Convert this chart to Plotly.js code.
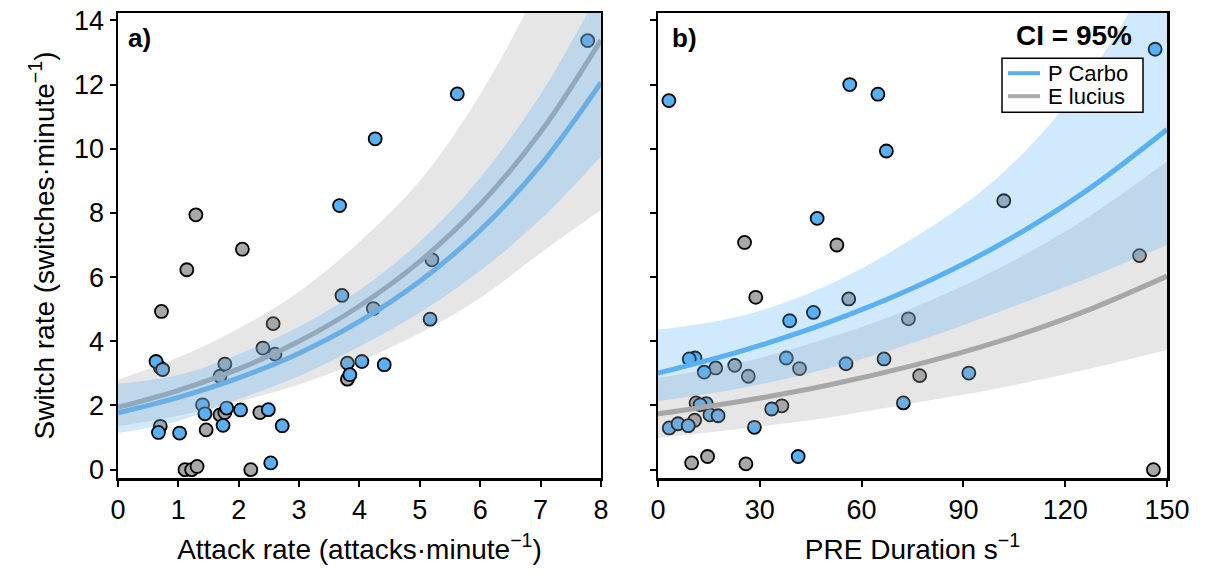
<!DOCTYPE html>
<html>
<head>
<meta charset="utf-8">
<script src="https://cdn.plot.ly/plotly-3.0.1.min.js"></script>
<style>html,body{margin:0;padding:0;background:#fff;}#chart{width:1205px;height:581px;}</style>
</head>
<body>
<div id="chart"></div>
<script>
// ---------- Panel a: Attack rate ----------
var aBlueX = [7.78, 5.62, 4.26, 3.67, 3.71, 5.17, 0.63, 0.74, 3.80, 4.04, 4.41, 3.84, 1.40, 1.44, 1.80, 2.03, 2.49, 2.72, 1.74, 0.67, 1.02, 2.53];
var aBlueY = [13.37, 11.71, 10.31, 8.23, 5.43, 4.69, 3.37, 3.12, 3.32, 3.37, 3.27, 2.96, 2.02, 1.74, 1.92, 1.86, 1.87, 1.37, 1.38, 1.16, 1.14, 0.21];
var aGrayX = [1.29, 2.06, 1.14, 0.72, 5.20, 4.23, 2.57, 2.40, 2.60, 1.77, 1.69, 0.70, 3.80, 1.69, 1.77, 2.35, 1.46, 0.70, 1.11, 1.22, 1.31, 2.20];
var aGrayY = [7.94, 6.87, 6.23, 4.93, 6.54, 5.02, 4.55, 3.79, 3.60, 3.29, 2.91, 3.18, 2.82, 1.71, 1.78, 1.78, 1.24, 1.35, 0.00, 0.00, 0.10, 0.00];

var aFitX      = [0, 1, 2, 3, 4, 5, 6, 7, 8];
var aBlueFit   = [1.77, 2.25, 2.86, 3.63, 4.62, 5.87, 7.46, 9.49, 12.06];
var aBlueUpper = [2.68, 2.95, 3.60, 4.45, 5.60, 7.10, 9.10, 11.70, 15.00];
var aBlueLower = [1.14, 1.52, 2.20, 2.92, 3.84, 4.90, 6.20, 7.80, 9.76];
var aGrayFit   = [1.94, 2.47, 3.14, 4.00, 5.10, 6.49, 8.26, 10.52, 13.39];
var aGrayUpper = [2.80, 3.50, 4.40, 5.55, 7.10, 9.00, 11.70, 15.20, 19.60];
var aGrayLower = [1.35, 1.68, 2.12, 2.65, 3.37, 4.25, 5.35, 6.75, 8.10];

// ---------- Panel b: PRE duration ----------
var bBlueX = [146.5, 3.2, 56.5, 64.8, 67.3, 46.9, 45.8, 38.8, 10.9, 9.2, 13.6, 37.8, 55.4, 66.6, 91.6, 72.3, 14.2, 12.4, 15.3, 17.7, 3.3, 5.9, 8.9, 28.4, 33.5, 41.3];
var bBlueY = [13.10, 11.50, 12.00, 11.70, 9.93, 7.83, 4.90, 4.64, 3.48, 3.45, 3.04, 3.48, 3.30, 3.45, 3.01, 2.08, 2.06, 2.02, 1.71, 1.68, 1.30, 1.43, 1.37, 1.32, 1.89, 0.41];
var bGrayX = [25.5, 52.7, 101.9, 141.9, 28.8, 56.2, 73.8, 17.0, 22.6, 26.6, 41.7, 77.1, 11.2, 10.8, 36.5, 9.9, 14.6, 25.9, 146.0];
var bGrayY = [7.08, 7.00, 8.38, 6.67, 5.37, 5.32, 4.70, 3.17, 3.25, 2.91, 3.15, 2.93, 2.08, 1.54, 1.99, 0.21, 0.41, 0.18, 0.00];

var bFitX      = [0, 25, 50, 75, 100, 125, 150];
var bBlueFit   = [3.01, 3.71, 4.58, 5.65, 6.97, 8.60, 10.60];
var bBlueUpper = [4.36, 4.80, 5.75, 7.20, 9.10, 12.00, 16.30];
var bBlueLower = [2.13, 2.55, 3.15, 3.95, 4.90, 5.90, 7.00];
var bGrayFit   = [1.74, 2.14, 2.63, 3.24, 3.98, 4.90, 6.03];
var bGrayUpper = [2.86, 3.35, 4.10, 5.04, 6.25, 7.75, 9.60];
var bGrayLower = [0.99, 1.28, 1.62, 2.07, 2.53, 3.09, 3.73];

var seriesNames = ['P Carbo', 'E lucius'];
var xTicksA = [0, 1, 2, 3, 4, 5, 6, 7, 8];
var xTicksB = [0, 30, 60, 90, 120, 150];
var yTicks  = [0, 2, 4, 6, 8, 10, 12, 14];

var BLUE = 'rgb(90,176,245)';
var GRAY = 'rgb(168,168,168)';
var BLUE_BAND = 'rgba(90,176,245,0.28)';
var GRAY_BAND = 'rgba(165,165,165,0.28)';
var FONT = 'Liberation Sans, Arial, sans-serif';

function pts(x, y, color, xa, ya, name) {
  return {x: x, y: y, type: 'scatter', mode: 'markers', xaxis: xa, yaxis: ya, name: name, showlegend: false, hoverinfo: 'skip',
    marker: {size: 13, color: color, line: {color: '#000', width: 1.8}}};
}
function fit(x, y, color, xa, ya, name) {
  return {x: x, y: y, type: 'scatter', mode: 'lines', xaxis: xa, yaxis: ya, name: name, showlegend: false,
    line: {color: color, width: 5, shape: 'spline'}};
}
function bandEdges(x, up, lo, color, xa, ya) {
  return [
    {x: x, y: lo, type: 'scatter', mode: 'lines', xaxis: xa, yaxis: ya, showlegend: false, hoverinfo: 'skip',
      line: {width: 0, shape: 'spline', color: 'rgba(0,0,0,0)'}},
    {x: x, y: up, type: 'scatter', mode: 'lines', fill: 'tonexty', fillcolor: color, xaxis: xa, yaxis: ya,
      showlegend: false, hoverinfo: 'skip', line: {width: 0, shape: 'spline', color: 'rgba(0,0,0,0)'}}
  ];
}

var data = [].concat(
  [pts(aGrayX, aGrayY, GRAY, 'x', 'y', seriesNames[1]),
   pts(aBlueX, aBlueY, BLUE, 'x', 'y', seriesNames[0]),
   fit(aFitX, aGrayFit, GRAY, 'x', 'y', seriesNames[1]),
   fit(aFitX, aBlueFit, BLUE, 'x', 'y', seriesNames[0])],
  bandEdges(aFitX, aGrayUpper, aGrayLower, GRAY_BAND, 'x', 'y'),
  bandEdges(aFitX, aBlueUpper, aBlueLower, BLUE_BAND, 'x', 'y'),
  [pts(bGrayX, bGrayY, GRAY, 'x2', 'y2', seriesNames[1]),
   pts(bBlueX, bBlueY, BLUE, 'x2', 'y2', seriesNames[0]),
   fit(bFitX, bBlueFit, BLUE, 'x2', 'y2', seriesNames[0]),
   fit(bFitX, bGrayFit, GRAY, 'x2', 'y2', seriesNames[1])],
  bandEdges(bFitX, bGrayUpper, bGrayLower, GRAY_BAND, 'x2', 'y2'),
  bandEdges(bFitX, bBlueUpper, bBlueLower, BLUE_BAND, 'x2', 'y2')
);

var axisCommon = {
  showgrid: false, zeroline: false, showline: true, mirror: true, linecolor: '#000', linewidth: 2.5,
  ticks: 'outside', ticklen: 6, tickwidth: 2, tickcolor: '#000',
  tickfont: {family: FONT, size: 27, color: '#000'}
};
function ax(extra) { return Object.assign({}, axisCommon, extra); }

// legend geometry (paper units)
function px2x(p) { return (p - 118) / 1049; }
function py2y(p) { return (478.3 - p) / 465.6; }

var layout = {
  width: 1205, height: 581,
  margin: {l: 118, r: 38, t: 13, b: 103},
  paper_bgcolor: '#fff', plot_bgcolor: '#fff',
  font: {family: FONT, color: '#000'},
  showlegend: false,
  xaxis: ax({domain: [0, 0.4604], range: [0, 8], tickvals: xTicksA, anchor: 'y',
    title: {text: 'Attack rate (attacks\u00b7minute<sup>\u22121</sup>)', font: {family: FONT, size: 28}, standoff: 16}}),
  yaxis: ax({range: [-0.26, 14.23], tickvals: yTicks, anchor: 'x',
    title: {text: 'Switch rate (switches\u00b7minute<sup>\u22121</sup>)', font: {family: FONT, size: 28}, standoff: 12}}),
  xaxis2: ax({domain: [0.5148, 1], range: [0, 150], tickvals: xTicksB, anchor: 'y2',
    title: {text: 'PRE Duration s<sup>\u22121</sup>', font: {family: FONT, size: 28}, standoff: 16}}),
  yaxis2: ax({range: [-0.26, 14.23], tickvals: yTicks, anchor: 'x2', showticklabels: false}),
  shapes: [
    {type: 'rect', xref: 'paper', yref: 'paper', x0: px2x(1002), x1: px2x(1143), y0: py2y(112), y1: py2y(58),
      fillcolor: '#fff', line: {color: '#000', width: 1.5}, layer: 'above'},
    {type: 'line', xref: 'paper', yref: 'paper', x0: px2x(1008), x1: px2x(1040), y0: py2y(73), y1: py2y(73),
      line: {color: BLUE, width: 4}, layer: 'above'},
    {type: 'line', xref: 'paper', yref: 'paper', x0: px2x(1008), x1: px2x(1040), y0: py2y(96), y1: py2y(96),
      line: {color: GRAY, width: 4}, layer: 'above'}
  ],
  annotations: [
    {text: '<b>a)</b>', xref: 'x domain', yref: 'y domain', x: 0.016, y: 0.982, xanchor: 'left', yanchor: 'top',
      showarrow: false, font: {family: FONT, size: 26, color: '#000'}},
    {text: '<b>b)</b>', xref: 'x2 domain', yref: 'y2 domain', x: 0.023, y: 0.982, xanchor: 'left', yanchor: 'top',
      showarrow: false, font: {family: FONT, size: 26, color: '#000'}},
    {text: '<b>CI = 95%</b>', xref: 'x2 domain', yref: 'y2 domain', x: 0.936, y: 0.99, xanchor: 'right', yanchor: 'top',
      showarrow: false, font: {family: FONT, size: 28, color: '#000'}},
    {text: seriesNames[0], xref: 'paper', yref: 'paper', x: px2x(1046), y: py2y(73), xanchor: 'left', yanchor: 'middle',
      showarrow: false, font: {family: FONT, size: 22, color: '#000'}},
    {text: seriesNames[1], xref: 'paper', yref: 'paper', x: px2x(1046), y: py2y(96), xanchor: 'left', yanchor: 'middle',
      showarrow: false, font: {family: FONT, size: 22, color: '#000'}}
  ]
};

Plotly.newPlot('chart', data, layout, {staticPlot: true, displayModeBar: false});
</script>
</body>
</html>
